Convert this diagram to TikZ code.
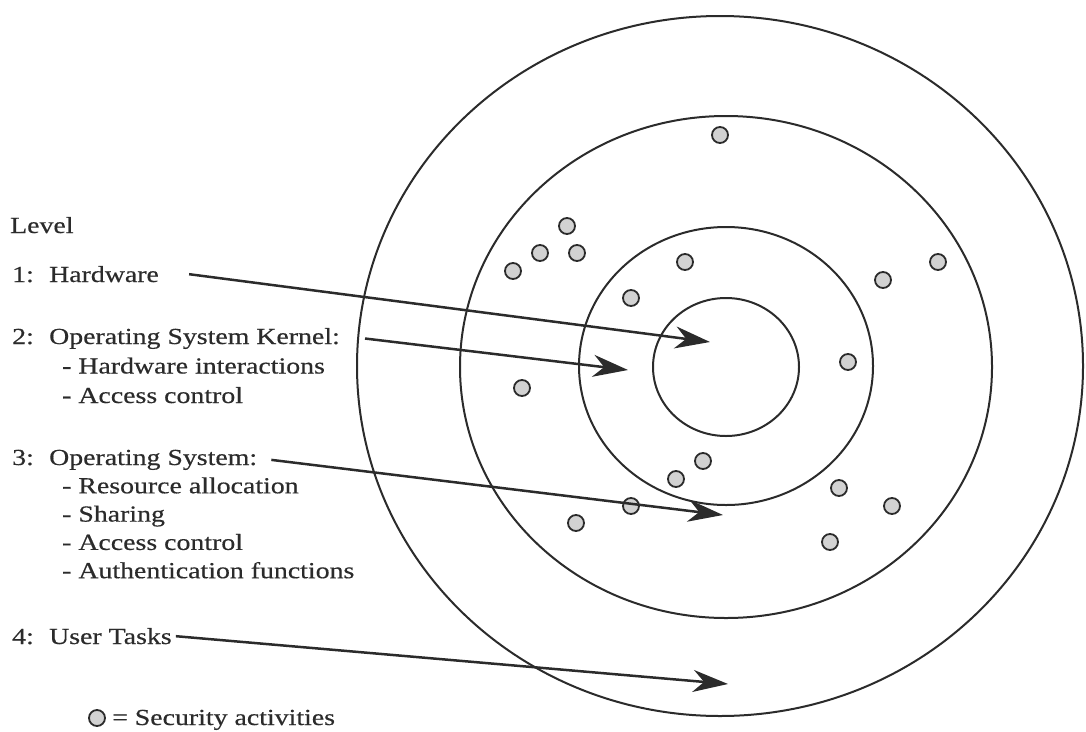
\documentclass[tikz,border=0pt]{standalone}
\usepackage{fontspec}
\setmainfont{Liberation Serif}[FakeStretch=1.21,FakeBold=0.5]
\usetikzlibrary{arrows.meta,positioning}

\definecolor{inkgray}{HTML}{2B2B2B}
\definecolor{dotgray}{HTML}{D2D2D2}
\tikzset{
  lbl/.style={anchor=base west,inner sep=0pt,text=inkgray,
    font=\fontsize{23}{28}\selectfont},
  ring/.style={draw=inkgray,line width=2pt},
  secdot/.style={draw=inkgray,fill=dotgray,line width=1.8pt},
  pointer/.style={draw=inkgray,line width=2.5pt,
    -{Stealth[length=35pt,width=22pt,inset=11pt]}}
}
\newcommand\lvnum[1]{\makebox[37pt][l]{#1:}}

\begin{document}
\begin{tikzpicture}[x=1pt,y=-1pt]
    \useasboundingbox (0,0) rectangle (1086,731);
    % the four rings
    \draw[ring] (720,366) ellipse [x radius=363, y radius=350];
    \draw[ring] (726,367) ellipse [x radius=266, y radius=251];
    \draw[ring] (726,366) ellipse [x radius=147, y radius=139];
    \draw[ring] (726,367) ellipse [x radius=73, y radius=69];
    % security activities
    \foreach \x/\y in {720/135, 567/226, 540/253, 577/253, 513/271,
        685/262, 631/298, 883/280, 938/262, 848/362, 522/388,
        703/461, 676/479, 631/506, 576/523, 839/488, 892/506, 830/542}
      \draw[secdot] (\x,\y) circle (8pt);
    % arrow targets
    \coordinate (t1) at (710,342);
    \coordinate (t2) at (628,370);
    \coordinate (t3) at (723,515);
    \coordinate (t4) at (728,684);
    % level texts
    \node[lbl] (level) at (10,233) {Level};
    \node[lbl] (lvl1) at (12,282) {\lvnum{1}Hardware};
    \node[lbl] (lvl2) at (12,344) {\lvnum{2}Operating System Kernel:};
    \foreach \t [count=\i] in {Hardware interactions, Access control}
      \node[lbl] (k\i) at (62,344+29.5*\i) {- \t};
    \node[lbl] (lvl3) at (12,465) {\lvnum{3}Operating System:};
    \foreach \t [count=\i] in {Resource allocation, Sharing, Access control,
        Authentication functions}
      \node[lbl] (o\i) at (62,465+28.3*\i) {- \t};
    \node[lbl] (lvl4) at (12,644) {\lvnum{4}User Tasks};
    \draw[secdot] (97,718) circle (8pt);
    \node[lbl] (legend) at (112,725) {= Security activities};
    % arrows
    \draw[pointer] ([xshift=30pt]lvl1.east) -- (t1);
    \draw[pointer] ([xshift=25pt]lvl2.east) -- (t2);
    \draw[pointer] ([xshift=14pt]lvl3.east) -- (t3);
    \draw[pointer] ([xshift=4pt]lvl4.east) -- (t4);
\end{tikzpicture}
\end{document}
